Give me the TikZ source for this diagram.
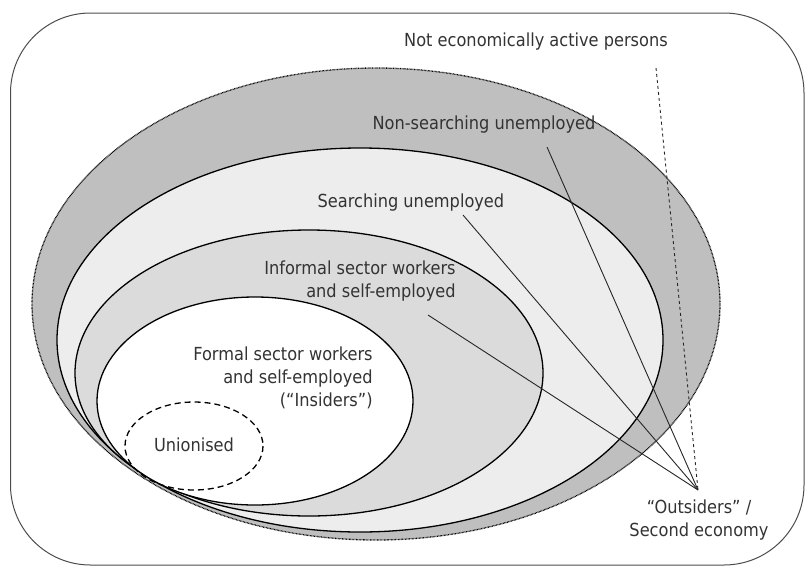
\documentclass[tikz,border=0pt]{standalone}
\usepackage{fontspec}
\setmainfont{DejaVu Sans Condensed}
\begin{document}
\begin{tikzpicture}[x=1pt,y=-1pt,
  ring/.style={draw=black,line width=1.3pt},
  lbl/.style={font=\fontsize{18}{23}\selectfont,text=black!80,inner sep=0pt},
  pointer/.style={draw=black!85,line width=0.9pt}]
\useasboundingbox (0,0) rectangle (805,568);
\draw[black!70,line width=1pt,rounded corners=80pt] (10.5,13) rectangle (804,565);

\draw[fill=black!25,line width=1.3pt,dash pattern=on 0.7pt off 0.7pt] (376,304) ellipse (344 and 236);
\draw[ring,fill=black!7] (360,340) ellipse (303 and 192);
\draw[ring,fill=black!14] (309,373) ellipse (234 and 143);
\draw[ring,fill=white] (255,401) ellipse (158 and 104);
\draw[line width=1.3pt,dash pattern=on 6pt off 4pt] (194,446) ellipse (69 and 44);

\node[lbl] (inactive) at (536,42) {Not economically active persons};
\node[lbl] (nonsearch) at (484,125) {Non-searching unemployed};
\node[lbl] (search) at (411,203) {Searching unemployed};
\node[lbl,align=right] (informal) at (360,281) {Informal sector workers\\and self-employed};
\node[lbl,align=right] (formal) at (283,378) {Formal sector workers\\and self-employed\\(``Insiders'')};
\node[lbl] (union) at (194,445) {Unionised};
\node[lbl,align=center] (outsiders) at (699,520) {``Outsiders'' /\\Second economy};

\coordinate (hub) at (698,490);
\coordinate (inactivefoot) at (656,68);
\coordinate (nonsearchfoot) at (547,147);
\coordinate (searchfoot) at (463,215);
\coordinate (informalfoot) at (428,315);

\draw[pointer] (nonsearchfoot) -- (hub);
\draw[pointer] (searchfoot) -- (hub);
\draw[pointer] (informalfoot) -- (hub);
\draw[pointer,dashed] (inactivefoot) -- (hub);
\end{tikzpicture}
\end{document}
